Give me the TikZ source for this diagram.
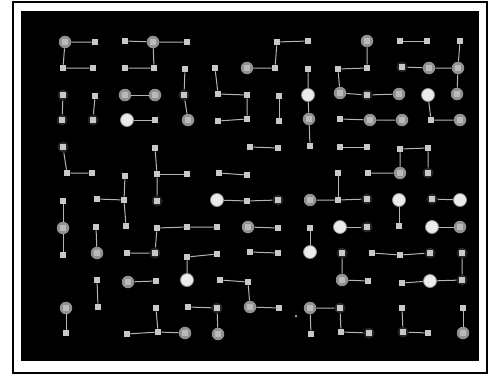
\documentclass[tikz,border=0pt]{standalone}
\usepackage{xcolor}
\usepackage{tikz}
\definecolor{sqgray}{RGB}{200,200,200}
\definecolor{linegray}{RGB}{180,180,180}
\definecolor{blobgray}{RGB}{145,145,145}
\definecolor{wblobgray}{RGB}{235,235,235}
\definecolor{halogray}{RGB}{38,38,38}
\tikzset{
  sq/.style={rectangle, fill=sqgray, minimum size=6.5pt, inner sep=0pt},
  blob/.style={circle, fill=blobgray, minimum size=12.5pt, inner sep=0pt,
    path picture={\fill[sqgray!75!blobgray] ([shift={(-3pt,-3pt)}]path picture bounding box.center) rectangle ++(6pt,6pt);}},
  wblob/.style={circle, fill=wblobgray, draw=blobgray, line width=0.8pt,
    minimum size=13pt, inner sep=0pt},
  halo/.style={circle, fill=halogray, minimum size=11pt, inner sep=0pt,
    path picture={\fill[sqgray] ([shift={(-3.25pt,-3.25pt)}]path picture bounding box.center) rectangle ++(6.5pt,6.5pt);}},
  link/.style={draw=linegray, line width=1pt}
}

\begin{document}
\begin{tikzpicture}[x=1pt, y=-1pt]
  \fill[white] (0,0) rectangle (490,375);
  \useasboundingbox (0,0) rectangle (490,375);
  \draw[line width=2.5pt] (13,2) rectangle (487,373);
  \fill[black] (21,11) rectangle (479,361);
  % row a
  \node[blob] (a1) at (65,42) {};
  \node[sq] (a2) at (95,42) {};
  \node[sq] (a3) at (125,41) {};
  \node[blob] (a4) at (153,42) {};
  \node[sq] (a5) at (187,42) {};
  \node[sq] (a8) at (277,42) {};
  \node[sq] (a9) at (308,41) {};
  \node[blob] (a11) at (367,41) {};
  \node[sq] (a12) at (400,41) {};
  \node[sq] (a13) at (427,41) {};
  \node[sq] (a14) at (460,41) {};
  % row b
  \node[sq] (b1) at (63,68) {};
  \node[sq] (b2) at (93,68) {};
  \node[sq] (b3) at (125,68) {};
  \node[sq] (b4) at (154,68) {};
  \node[sq] (b5) at (185,69) {};
  \node[sq] (b6) at (215,68) {};
  \node[blob] (b7) at (247,68) {};
  \node[sq] (b8) at (275,68) {};
  \node[sq] (b9) at (308,69) {};
  \node[sq] (b10) at (338,69) {};
  \node[sq] (b11) at (367,68) {};
  \node[halo] (b12) at (402,67) {};
  \node[blob] (b13) at (429,68) {};
  \node[blob] (b14) at (458,68) {};
  % row c
  \node[halo] (c1) at (63,95) {};
  \node[sq] (c2) at (95,96) {};
  \node[blob] (c3) at (125,95) {};
  \node[blob] (c4) at (155,95) {};
  \node[halo] (c5) at (184,95) {};
  \node[sq] (c6) at (218,94) {};
  \node[sq] (c7) at (247,95) {};
  \node[sq] (c8) at (279,96) {};
  \node[wblob] (c9) at (308,95) {};
  \node[blob] (c10) at (340,93) {};
  \node[halo] (c11) at (367,95) {};
  \node[blob] (c12) at (399,94) {};
  \node[wblob] (c13) at (428,95) {};
  \node[blob] (c14) at (457,94) {};
  % row d
  \node[halo] (d1) at (62,120) {};
  \node[halo] (d2) at (93,120) {};
  \node[wblob] (d3) at (127,120) {};
  \node[sq] (d4) at (155,120) {};
  \node[blob] (d5) at (188,120) {};
  \node[sq] (d6) at (218,121) {};
  \node[sq] (d7) at (247,119) {};
  \node[sq] (d8) at (279,121) {};
  \node[blob] (d9) at (309,119) {};
  \node[sq] (d10) at (340,119) {};
  \node[blob] (d11) at (370,120) {};
  \node[blob] (d12) at (402,120) {};
  \node[sq] (d13) at (431,120) {};
  \node[blob] (d14) at (460,120) {};
  % row e
  \node[halo] (e1) at (63,147) {};
  \node[sq] (e4) at (155,148) {};
  \node[sq] (e7) at (250,147) {};
  \node[sq] (e8) at (278,148) {};
  \node[sq] (e9) at (310,146) {};
  \node[sq] (e10) at (340,147) {};
  \node[sq] (e11) at (367,147) {};
  \node[sq] (e12) at (400,149) {};
  \node[sq] (e13) at (428,148) {};
  % row f
  \node[sq] (f1) at (67,173) {};
  \node[sq] (f2) at (92,173) {};
  \node[sq] (f3) at (125,176) {};
  \node[sq] (f4) at (157,174) {};
  \node[sq] (f5) at (187,174) {};
  \node[sq] (f6) at (219,173) {};
  \node[sq] (f7) at (247,175) {};
  \node[sq] (f10) at (338,173) {};
  \node[sq] (f11) at (368,173) {};
  \node[blob] (f12) at (400,173) {};
  \node[halo] (f13) at (428,173) {};
  % row g
  \node[sq] (g1) at (63,201) {};
  \node[sq] (g2) at (97,199) {};
  \node[sq] (g3) at (124,200) {};
  \node[halo] (g4) at (157,201) {};
  \node[wblob] (g6) at (217,200) {};
  \node[sq] (g7) at (247,201) {};
  \node[halo] (g8) at (278,200) {};
  \node[blob] (g9) at (310,200) {};
  \node[sq] (g10) at (338,200) {};
  \node[halo] (g11) at (367,199) {};
  \node[wblob] (g12) at (399,200) {};
  \node[halo] (g13) at (432,199) {};
  \node[wblob] (g14) at (460,200) {};
  % row h
  \node[blob] (h1) at (63,228) {};
  \node[sq] (h2) at (96,227) {};
  \node[sq] (h3) at (126,226) {};
  \node[sq] (h4) at (157,228) {};
  \node[sq] (h5) at (187,227) {};
  \node[sq] (h6) at (217,227) {};
  \node[blob] (h7) at (248,227) {};
  \node[sq] (h8) at (278,228) {};
  \node[sq] (h9) at (310,228) {};
  \node[wblob] (h10) at (340,227) {};
  \node[halo] (h11) at (367,227) {};
  \node[sq] (h12) at (399,226) {};
  \node[wblob] (h13) at (432,227) {};
  \node[blob] (h14) at (460,227) {};
  % row i
  \node[sq] (i1) at (63,255) {};
  \node[blob] (i2) at (97,253) {};
  \node[sq] (i3) at (127,253) {};
  \node[halo] (i4) at (155,253) {};
  \node[sq] (i5) at (187,257) {};
  \node[sq] (i6) at (217,254) {};
  \node[sq] (i7) at (250,252) {};
  \node[sq] (i8) at (278,253) {};
  \node[wblob] (i9) at (310,252) {};
  \node[halo] (i10) at (342,253) {};
  \node[sq] (i11) at (372,253) {};
  \node[sq] (i12) at (400,255) {};
  \node[halo] (i13) at (430,253) {};
  \node[halo] (i14) at (462,253) {};
  % row j
  \node[sq] (j2) at (97,280) {};
  \node[blob] (j3) at (128,282) {};
  \node[sq] (j4) at (156,281) {};
  \node[wblob] (j5) at (187,280) {};
  \node[sq] (j6) at (220,280) {};
  \node[sq] (j7) at (248,282) {};
  \node[blob] (j10) at (342,280) {};
  \node[sq] (j11) at (368,281) {};
  \node[sq] (j12) at (402,283) {};
  \node[wblob] (j13) at (430,281) {};
  \node[halo] (j14) at (462,280) {};
  % row k
  \node[blob] (k1) at (66,308) {};
  \node[sq] (k2) at (98,307) {};
  \node[sq] (k4) at (156,308) {};
  \node[sq] (k5) at (188,307) {};
  \node[halo] (k6) at (217,308) {};
  \node[blob] (k7) at (250,307) {};
  \node[sq] (k8) at (279,308) {};
  \node[blob] (k9) at (310,308) {};
  \node[halo] (k10) at (340,308) {};
  \node[sq] (k12) at (402,308) {};
  \node[sq] (k14) at (463,308) {};
  % row l
  \node[sq] (l1) at (66,333) {};
  \node[sq] (l3) at (127,334) {};
  \node[sq] (l4) at (158,332) {};
  \node[blob] (l5) at (185,333) {};
  \node[blob] (l6) at (218,334) {};
  \node[sq] (l9) at (311,334) {};
  \node[sq] (l10) at (341,332) {};
  \node[halo] (l11) at (369,333) {};
  \node[halo] (l12) at (403,332) {};
  \node[sq] (l13) at (428,333) {};
  \node[blob] (l14) at (463,333) {};
  \node[circle, fill=white, minimum size=2pt, inner sep=0pt] (dot) at (296,316) {};
  % links
  \draw[link] (a2) -- (a1) -- (b1) -- (b2);
  \draw[link] (a3) -- (a4) -- (a5);
  \draw[link] (a4) -- (b4) -- (b3);
  \draw[link] (b7) -- (b8) -- (a8) -- (a9);
  \draw[link] (a11) -- (b11) -- (b10) -- (c10) -- (c11) -- (c12);
  \draw[link] (a12) -- (a13);
  \draw[link] (a14) -- (b14) -- (c14);
  \draw[link] (b12) -- (b13) -- (b14);
  \draw[link] (b5) -- (c5) -- (d5);
  \draw[link] (b6) -- (c6) -- (c7) -- (d7) -- (d6);
  \draw[link] (b9) -- (c9) -- (d9) -- (e9);
  \draw[link] (c1) -- (d1);
  \draw[link] (c2) -- (d2);
  \draw[link] (c3) -- (c4);
  \draw[link] (c8) -- (d8);
  \draw[link] (c13) -- (d13) -- (d14);
  \draw[link] (d3) -- (d4);
  \draw[link] (d10) -- (d11) -- (d12);
  \draw[link] (e1) -- (f1) -- (f2);
  \draw[link] (e4) -- (f4) -- (g4);
  \draw[link] (f4) -- (f5);
  \draw[link] (e7) -- (e8);
  \draw[link] (e10) -- (e11);
  \draw[link] (f13) -- (e13) -- (e12) -- (f12) -- (f11);
  \draw[link] (f3) -- (g3) -- (h3);
  \draw[link] (g2) -- (g3);
  \draw[link] (f6) -- (f7);
  \draw[link] (f10) -- (g10);
  \draw[link] (g9) -- (g10) -- (g11);
  \draw[link] (g1) -- (h1) -- (i1);
  \draw[link] (g6) -- (g7) -- (g8);
  \draw[link] (g12) -- (h12);
  \draw[link] (g13) -- (g14);
  \draw[link] (h2) -- (i2);
  \draw[link] (h6) -- (h5) -- (h4) -- (i4) -- (i3);
  \draw[link] (h7) -- (h8);
  \draw[link] (h9) -- (i9);
  \draw[link] (h10) -- (h11);
  \draw[link] (h13) -- (h14);
  \draw[link] (i6) -- (i5) -- (j5);
  \draw[link] (i7) -- (i8);
  \draw[link] (i10) -- (j10) -- (j11);
  \draw[link] (i11) -- (i12) -- (i13);
  \draw[link] (j12) -- (j13) -- (j14) -- (i14);
  \draw[link] (j2) -- (k2);
  \draw[link] (j3) -- (j4);
  \draw[link] (j6) -- (j7) -- (k7) -- (k8);
  \draw[link] (k1) -- (l1);
  \draw[link] (k4) -- (l4);
  \draw[link] (l3) -- (l4) -- (l5);
  \draw[link] (k5) -- (k6) -- (l6);
  \draw[link] (l9) -- (k9) -- (k10) -- (l10) -- (l11);
  \draw[link] (k12) -- (l12) -- (l13);
  \draw[link] (k14) -- (l14);
\end{tikzpicture}
\end{document}
